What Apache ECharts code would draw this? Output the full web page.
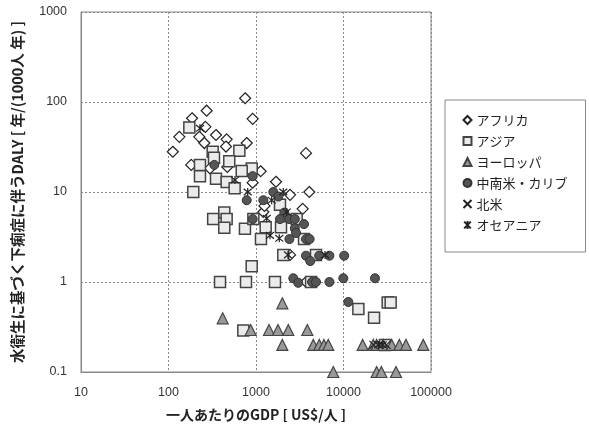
<!DOCTYPE html>
<html lang="ja">
<head>
<meta charset="UTF-8">
<title>GDP vs DALY</title>
<script src="https://cdn.jsdelivr.net/npm/echarts@6/dist/echarts.min.js"></script>
<style>
  html, body { margin: 0; padding: 0; background: #fff; }
  #main { width: 589px; height: 428px; }
</style>
</head>
<body>
<div id="main"></div>
<script>
// 一人あたりGDP [US$/人] と DALY [年/(1000人 年)] の組
var africa = [[752,110],[273,80],[916,65],[186,66],[264,53],[133,41],[349,43],[462,38.5],[225,41],
  [257,35],[783,35],[454,32],[112,28],[3727,27],[182,20],[298,18.3],[470,19],[1130,17],[1693,13],
  [916,12.7],[4064,10],[2449,9.3],[3414,6.5],[1213,6.0],[1250,7],[2449,2.0],[3727,1.0]];
var asia = [[173,52],[320,28],[645,28.8],[495,22],[229,20],[893,18.3],[687,17.1],[229,15],[349,14],
  [462,12.9],[570,11],[192,10],[331,24],[1880,7.2],[434,5.9],[324,5.0],[462,5.0],[434,4.0],[748,3.9],
  [933,5.0],[1290,4.05],[1931,4.05],[1140,3.0],[2918,5.0],[3540,3.0],[2050,2.0],[4850,2.0],[893,1.5],
  [388,1.0],[769,1.0],[1648,1.0],[4260,1.0],[716,0.29],[14790,0.5],[22340,0.4],[32000,0.59],
  [34600,0.59],[29800,0.2]];
var europe = [[2000,0.58],[416,0.395],[869,0.293],[1408,0.293],[1783,0.293],[2340,0.293],[3860,0.293],
  [2000,0.2],[4520,0.2],[5290,0.2],[5980,0.2],[6700,0.2],[7640,0.1],[16560,0.2],[21900,0.2],
  [23900,0.2],[28500,0.2],[35600,0.2],[43500,0.2],[51800,0.2],[81600,0.2],[23900,0.1],[27100,0.1],
  [39800,0.1]];
var latinAmerica = [[334,20],[916,15],[1578,10],[1800,8.9],[783,8.1],[1213,8.1],[2104,5.9],[916,5.0],
  [1880,5.0],[2408,5.0],[2780,5.0],[3540,4.4],[2780,3.95],[2870,3.5],[2408,3.0],[3727,3.0],[4100,3.0],
  [3727,1.96],[4170,1.71],[5270,1.96],[6900,1.96],[10180,1.96],[2670,1.1],[3040,0.98],[4370,1.0],
  [4850,1.0],[6900,1.0],[9950,1.1],[22900,1.1],[11350,0.6]];
var northAmerica = [[22000,0.2],[31000,0.2]];
var oceania = [[575,13.6],[804,10],[2050,10],[1510,8.1],[2245,6.0],[1325,5.1],[1445,3.3],[1845,3.06],
  [2320,2.0],[6150,2.0],[229,51],[25000,0.2],[28000,0.2]];

var xTicks = ['10', '100', '1000', '10000', '100000'];
var yTicks = ['0.1', '1', '10', '100', '1000'];

var crossPath = 'path://M0,0L10,10M10,0L0,10';
var starPath = 'path://M0,0L10,10M10,0L0,10M5,-1L5,11';

var chart = echarts.init(document.getElementById('main'));
var numFont = 'Liberation Sans, sans-serif';
var jpFont = 'Noto Sans CJK JP, sans-serif';

chart.setOption({
  animation: false,
  backgroundColor: '#fff',
  grid: { left: 81, right: 158, top: 12, bottom: 56, show: true, borderColor: '#888', borderWidth: 1 },
  xAxis: {
    type: 'log', logBase: 10, min: 10, max: 100000,
    name: '一人あたりのGDP [ US$/人 ]', nameLocation: 'middle', nameGap: 36,
    nameTextStyle: { fontFamily: jpFont, fontWeight: 'bold', fontSize: 14, color: '#222' },
    axisLine: { lineStyle: { color: '#888' } },
    axisTick: { show: false },
    axisLabel: { fontFamily: numFont, fontSize: 12.5, color: '#333', margin: 14,
      formatter: function (v) { return xTicks[Math.round(Math.log10(v)) - 1]; } },
    splitLine: { lineStyle: { color: '#888', type: [2, 2] } }
  },
  yAxis: {
    type: 'log', logBase: 10, min: 0.1, max: 1000,
    name: '水衛生に基づく下痢症に伴うDALY [ 年/(1000人 年) ]', nameLocation: 'middle', nameGap: 56,
    nameTextStyle: { fontFamily: jpFont, fontWeight: 'bold', fontSize: 14.5, color: '#222' },
    axisLine: { lineStyle: { color: '#888' } },
    axisTick: { show: false },
    axisLabel: { fontFamily: numFont, fontSize: 12.5, color: '#333', margin: 14,
      formatter: function (v) { return yTicks[Math.round(Math.log10(v)) + 1]; } },
    splitLine: { lineStyle: { color: '#888', type: [2, 2] } }
  },
  legend: {
    orient: 'vertical', left: 445, top: 100,
    padding: [13, 18, 20, 16], itemGap: 7, itemWidth: 8, itemHeight: 8,
    borderColor: '#888', borderWidth: 1,
    textStyle: { fontFamily: jpFont, fontSize: 13, color: '#222', lineHeight: 14 },
    data: ['アフリカ', 'アジア', 'ヨーロッパ', '中南米・カリブ', '北米', 'オセアニア']
  },
  series: [
    { name: 'アフリカ', type: 'scatter', data: africa, symbol: 'diamond', symbolSize: 11,
      itemStyle: { color: '#fff', borderColor: '#222', borderWidth: 1.2, opacity: 1 } },
    { name: 'アジア', type: 'scatter', data: asia, symbol: 'rect', symbolSize: 11,
      itemStyle: { color: '#ebebeb', borderColor: '#444', borderWidth: 1.5, opacity: 1 } },
    { name: 'ヨーロッパ', type: 'scatter', data: europe, symbol: 'triangle', symbolSize: 11,
      itemStyle: { color: '#999', borderColor: '#444', borderWidth: 1.2, opacity: 1 } },
    { name: '中南米・カリブ', type: 'scatter', data: latinAmerica, symbol: 'circle', symbolSize: 9,
      itemStyle: { color: '#555', borderColor: '#333', borderWidth: 1, opacity: 1 } },
    { name: '北米', type: 'scatter', data: northAmerica, symbol: crossPath, symbolSize: 8,
      itemStyle: { color: 'none', borderColor: '#222', borderWidth: 1.2, opacity: 1 } },
    { name: 'オセアニア', type: 'scatter', data: oceania, symbol: starPath, symbolSize: 8,
      itemStyle: { color: 'none', borderColor: '#222', borderWidth: 1.2, opacity: 1 } }
  ]
});
</script>
</body>
</html>
